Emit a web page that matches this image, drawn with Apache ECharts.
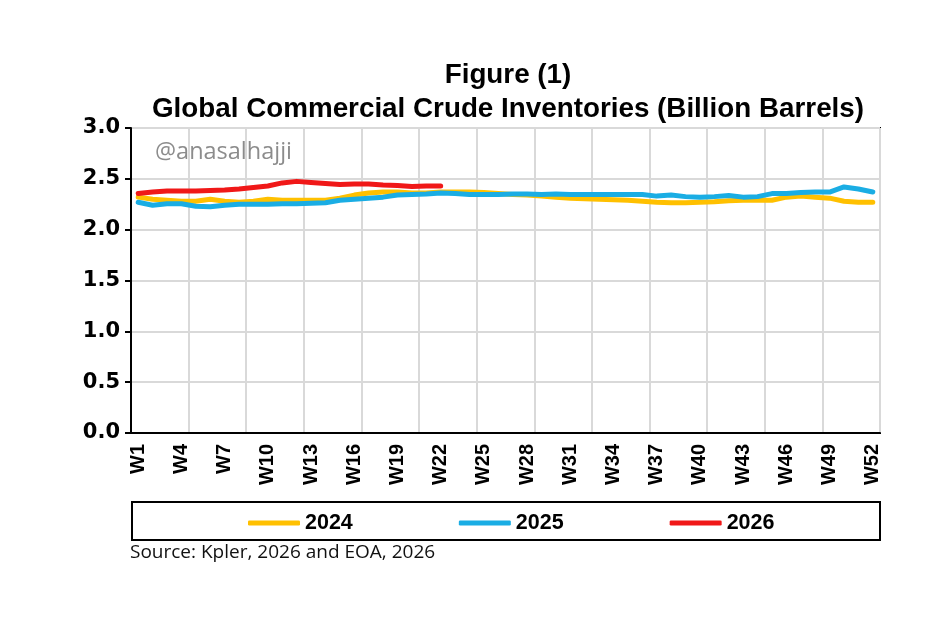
<!DOCTYPE html>
<html>
<head>
<meta charset="utf-8">
<script src="https://cdn.jsdelivr.net/npm/echarts@6/dist/echarts.min.js"></script>
<style>
  html, body { margin: 0; padding: 0; background: #fff; }
  #main { width: 948px; height: 617px; }
</style>
</head>
<body>
<div id="main"></div>
<script>
// weeks W1..W52
var weeks = [];
for (var w = 1; w <= 52; w++) weeks.push('W' + w);

// values (billion barrels)
var inv2024 = [2.32, 2.30, 2.29, 2.28, 2.28, 2.30, 2.28, 2.27, 2.28, 2.30,
  2.29, 2.29, 2.29, 2.29, 2.31, 2.34, 2.36, 2.37, 2.37, 2.36,
  2.36, 2.37, 2.37, 2.37, 2.365, 2.355, 2.345, 2.34, 2.33, 2.32,
  2.31, 2.305, 2.30, 2.295, 2.29, 2.28, 2.27, 2.265, 2.265, 2.27,
  2.275, 2.285, 2.29, 2.29, 2.29, 2.32, 2.33, 2.32, 2.31, 2.28,
  2.27, 2.27];
var inv2025 = [2.27, 2.24, 2.255, 2.255, 2.23, 2.225, 2.24, 2.25, 2.25, 2.25,
  2.255, 2.255, 2.26, 2.265, 2.29, 2.30, 2.31, 2.32, 2.34, 2.345,
  2.35, 2.36, 2.355, 2.345, 2.345, 2.345, 2.35, 2.35, 2.345, 2.35,
  2.345, 2.345, 2.345, 2.345, 2.345, 2.345, 2.33, 2.34, 2.325, 2.32,
  2.325, 2.335, 2.32, 2.325, 2.355, 2.355, 2.365, 2.37, 2.37, 2.42,
  2.40, 2.37];
var inv2026 = [2.355, 2.37, 2.38, 2.38, 2.38, 2.385, 2.39, 2.40, 2.415, 2.43,
  2.46, 2.475, 2.465, 2.455, 2.445, 2.45, 2.45, 2.44, 2.435, 2.425,
  2.43, 2.43];

var myChart = echarts.init(document.getElementById('main'));

var option = {
  backgroundColor: '#fff',
  animation: false,
  title: {
    left: 503,
    textAlign: 'center',
    top: 53,
    text: 'Figure (1)\nGlobal Commercial Crude Inventories (Billion Barrels)',
    textStyle: {
      fontFamily: 'Liberation Sans',
      fontWeight: 'bold',
      fontSize: 27.8,
      lineHeight: 34,
      color: '#000'
    }
  },
  legend: {
    left: 243,
    top: 507,
    icon: 'roundRect',
    itemWidth: 52,
    itemHeight: 5,
    itemGap: 106,
    data: ['2024', '2025', '2026'],
    textStyle: {
      fontFamily: 'Liberation Sans',
      fontWeight: 'bold',
      fontSize: 21.5,
      color: '#000'
    }
  },
  grid: {
    left: 131,
    right: 68,
    top: 128,
    bottom: 184,
    show: true,
    borderColor: '#000',
    borderWidth: 2
  },
  xAxis: {
    type: 'category',
    data: weeks,
    boundaryGap: true,
    axisLine: { lineStyle: { color: '#000', width: 2 } },
    axisTick: { interval: 3, length: 6, lineStyle: { color: '#000', width: 2 } },
    axisLabel: {
      interval: 2,
      rotate: 90,
      margin: 11,
      fontFamily: 'Liberation Sans',
      fontWeight: 'bold',
      fontSize: 20,
      color: '#000'
    },
    splitLine: { show: true, interval: 3, lineStyle: { color: '#d9d9d9', width: 2 } }
  },
  yAxis: {
    type: 'value',
    min: 0,
    max: 3,
    interval: 0.5,
    axisLine: { show: true, lineStyle: { color: '#000', width: 2 } },
    axisTick: { show: true, length: 6, lineStyle: { color: '#000', width: 2 } },
    axisLabel: {
      margin: 11,
      formatter: function (v) { return v.toFixed(1); },
      fontFamily: 'DejaVu Sans',
      fontWeight: 'bold',
      fontSize: 21,
      color: '#000'
    },
    splitLine: { lineStyle: { color: '#d9d9d9', width: 2 } }
  },
  graphic: [
    {
      type: 'rect',
      shape: { x: 132, y: 502, width: 748, height: 38 },
      style: { fill: 'none', stroke: '#000', lineWidth: 2 },
      z: 1
    },
    {
      type: 'text',
      left: 155,
      top: 140,
      style: {
        text: '@anasalhajji',
        fontFamily: 'Open Sans',
        fontSize: 23.5,
        fill: '#8c8c8c'
      },
      z: 100
    },
    {
      type: 'text',
      left: 130,
      top: 543,
      style: {
        text: 'Source: Kpler, 2026 and EOA, 2026',
        fontFamily: 'Open Sans',
        fontSize: 19,
        fill: '#111'
      }
    }
  ],
  series: [
    {
      name: '2024',
      type: 'line',
      symbol: 'none',
      data: inv2024,
      itemStyle: { color: '#FFC000' },
      lineStyle: { color: '#FFC000', width: 5, cap: 'round', join: 'round' }
    },
    {
      name: '2025',
      type: 'line',
      symbol: 'none',
      data: inv2025,
      itemStyle: { color: '#1AADE4' },
      lineStyle: { color: '#1AADE4', width: 5, cap: 'round', join: 'round' }
    },
    {
      name: '2026',
      type: 'line',
      symbol: 'none',
      data: inv2026,
      itemStyle: { color: '#F01818' },
      lineStyle: { color: '#F01818', width: 5, cap: 'round', join: 'round' }
    }
  ]
};

myChart.setOption(option);
</script>
</body>
</html>
